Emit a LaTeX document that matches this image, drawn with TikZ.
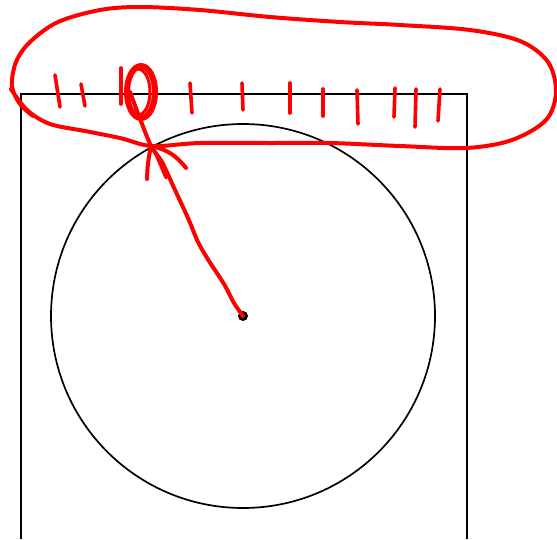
\documentclass[tikz,border=0pt]{standalone}
\usepackage{tikz}
\usetikzlibrary{positioning}

\begin{document}
\begin{tikzpicture}[
    x=1pt, y=-1pt,
    frame/.style={
        draw=black,
        line width=2pt
    },
    wheel/.style={
        draw=black,
        line width=1.7pt
    },
    pen/.style={
        draw=red,
        line width=4pt,
        line cap=round,
        line join=round
    },
    tick/.style={pen, line width=3.6pt}
]

\useasboundingbox (0,0) rectangle (557,539);

\coordinate (centre) at (243,316);
\coordinate (tip) at (151,146);
\coordinate (knot) at (141,92);

% square and circle
\draw[frame] (20.5,538.5) -- (20.5,93.5) -- (466.5,93.5) -- (466.5,538.5);
\draw[wheel] (centre) circle[radius=192];
\fill (centre) circle[radius=5];

% the red loop round the top edge
\draw[pen] plot[smooth, tension=0.55] coordinates {
    (33,116) (20,104) (12,86) (16,62) (30,42) (58,22) (100,10) (140,7)
    (200,10) (270,17) (340,22) (400,25) (470,30) (520,41) (548,62)
    (556,92) (546,120) (512,140) (466,148) (400,146) (330,143)
    (270,143) (200,143) (152,146) (120,138) (85,131) (50,124)
    (27,110) (11,89)
};

% ticks
\foreach \xa/\ya/\xb/\yb in {
    55/75/60/107, 81/84/85/106, 121/68/121/104, 190/83/192/113,
    242/83/243/110, 290/83/290/113, 323/89/323/116, 357/90/358/124,
    395/88/394/117, 416/89/415/127, 440/89/438/121} {
    \draw[tick] (\xa,\ya) -- (\xb,\yb);
}

% small ring
\draw[pen, line width=6pt] (knot) ellipse[x radius=14, y radius=26];
\draw[pen, line width=3pt] ([xshift=-3pt]knot) ellipse[x radius=12, y radius=23];

% arrow from the centre
\draw[pen] plot[smooth, tension=0.5] coordinates {
    (centre) (234,303) (224,284) (209,261) (198,242) (188,218)
    (175,190) (162,162) (tip) (139,116) (130,92)
};
\draw[pen] (tip) to[bend right=5] (147,179);
\draw[pen] (tip) to[bend left=20] (186,168);
\draw[pen, line width=3pt] (154,150) -- (166,178);

\end{tikzpicture}
\end{document}
